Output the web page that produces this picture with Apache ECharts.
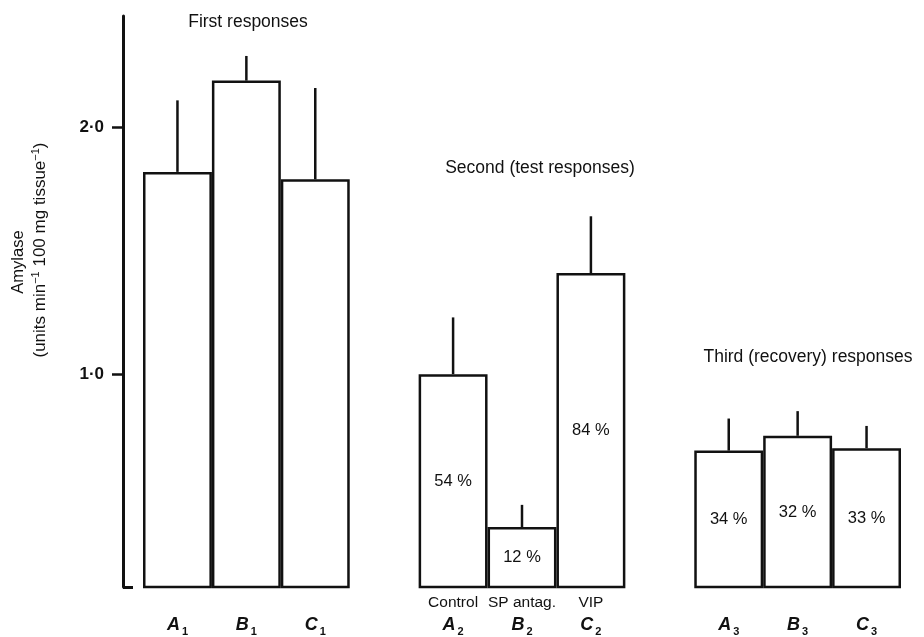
<!DOCTYPE html>
<html>
<head>
<meta charset="utf-8">
<script src="https://cdn.jsdelivr.net/npm/echarts@6/dist/echarts.min.js"></script>
<style>
html,body{margin:0;padding:0;background:#fff;}
#chart{width:924px;height:637px;}
</style>
</head>
<body>
<div id="chart"></div>
<script>
// ---- data ----
const categories = ['A1', 'B1', 'C1', '', 'A2', 'B2', 'C2', '', 'A3', 'B3', 'C3'];
const treatments = ['', '', '', '', 'Control', 'SP antag.', 'VIP', '', '', '', ''];
const meanValues = [1.82, 2.19, 1.79, null, 1.00, 0.38, 1.41, null, 0.69, 0.75, 0.70];
const errorTops  = [2.11, 2.29, 2.16, null, 1.23, 0.47, 1.64, null, 0.82, 0.85, 0.79];
const percentLabels = ['', '', '', '', '54 %', '12 %', '84 %', '', '34 %', '32 %', '33 %'];
const yTickValues = [1, 2];
const yTickLabels = ['1·0', '2·0'];
const yMin = 0.137;
const yMax = 2.452;
const groupTitles = ['First responses', 'Second (test responses)', 'Third (recovery) responses'];
const yName = 'Amylase';
const yUnits = ['(units min', '−1', ' 100 mg tissue', '−1', ')'];

const FONT = '"Liberation Sans", Arial, Helvetica, sans-serif';
const chart = echarts.init(document.getElementById('chart'), null, {renderer: 'canvas'});

const barData = meanValues.map(v => v == null ? '-' : v);
const errData = [];
meanValues.forEach((v, i) => { if (v != null) errData.push([i, v, errorTops[i]]); });

const option = {
  backgroundColor: '#ffffff',
  animation: false,
  grid: {left: 143, right: 23, top: 16, bottom: 47},
  xAxis: {
    type: 'category',
    data: categories,
    boundaryGap: true,
    axisLine: {show: false},
    axisTick: {show: false},
    splitLine: {show: false},
    axisLabel: {
      interval: 0,
      margin: 6,
      formatter: function (val, idx) {
        if (!val) return '';
        const top = treatments[idx] ? '{t|' + treatments[idx] + '}' : '{t| }';
        return top + '\n{i|' + val.charAt(0) + '}{s|' + val.slice(1) + '}';
      },
      rich: {
        t: {fontFamily: FONT, fontSize: 15.5, color: '#111', lineHeight: 20},
        i: {fontFamily: FONT, fontSize: 18, fontStyle: 'italic', fontWeight: 'bold', color: '#111', lineHeight: 24},
        s: {fontFamily: FONT, fontSize: 11, fontWeight: 'bold', color: '#111', verticalAlign: 'bottom', lineHeight: 18, padding: [6, 0, 0, 2]}
      }
    }
  },
  yAxis: [{
    type: 'value',
    min: yMin,
    max: yMax,
    position: 'left',
    offset: 20,
    splitLine: {show: false},
    axisLine: {show: true, lineStyle: {color: '#111', width: 3}},
    axisTick: {show: true, length: 11, lineStyle: {color: '#111', width: 2.5}, customValues: yTickValues},
    axisLabel: {
      show: true, margin: 19, color: '#111', fontFamily: FONT, fontSize: 17, fontWeight: 'bold',
      customValues: yTickValues,
      formatter: function (v) { const k = yTickValues.indexOf(v); return k >= 0 ? yTickLabels[k] : ''; }
    }
  }, {
    type: 'value',
    min: yMin,
    max: yMax,
    position: 'left',
    offset: 20,
    splitLine: {show: false},
    axisLine: {show: false},
    axisTick: {show: true, inside: true, length: 10, lineStyle: {color: '#111', width: 3}, customValues: [yMin]},
    axisLabel: {show: false}
  }],
  graphic: [
    {type: 'text', x: 248, y: 22, style: {text: groupTitles[0], align: 'center', verticalAlign: 'middle', font: '17.5px ' + FONT, fill: '#111'}},
    {type: 'text', x: 540, y: 168, style: {text: groupTitles[1], align: 'center', verticalAlign: 'middle', font: '17.5px ' + FONT, fill: '#111'}},
    {type: 'text', x: 808, y: 357, style: {text: groupTitles[2], align: 'center', verticalAlign: 'middle', font: '17.5px ' + FONT, fill: '#111'}},
    {type: 'text', x: 18, y: 262, rotation: Math.PI / 2,
      style: {text: yName, align: 'center', verticalAlign: 'middle', font: '16.5px ' + FONT, fill: '#111'}},
    {type: 'text', x: 40, y: 250, rotation: Math.PI / 2,
      style: {
        text: '{n|' + yUnits[0] + '}{u|' + yUnits[1] + '}{n|' + yUnits[2] + '}{u|' + yUnits[3] + '}{n|' + yUnits[4] + '}',
        align: 'center', verticalAlign: 'middle', fill: '#111',
        rich: {
          n: {fontFamily: FONT, fontSize: 17, fill: '#111', lineHeight: 20},
          u: {fontFamily: FONT, fontSize: 11, fill: '#111', verticalAlign: 'top', lineHeight: 20, padding: [0, 0, 9, 0]}
        }
      }}
  ],
  series: [{
    type: 'bar',
    data: barData,
    barWidth: '100%',
    barCategoryGap: '0%',
    clip: true,
    itemStyle: {color: '#ffffff', borderColor: '#111', borderWidth: 2.5},
    label: {
      show: true, position: 'inside', color: '#111', fontFamily: FONT, fontSize: 16.5,
      formatter: function (p) { return percentLabels[p.dataIndex]; }
    },
    emphasis: {disabled: true},
    z: 2
  }, {
    type: 'custom',
    data: errData,
    encode: {x: 0, y: [1, 2]},
    renderItem: function (params, api) {
      const p1 = api.coord([api.value(0), api.value(1)]);
      const p2 = api.coord([api.value(0), api.value(2)]);
      return {
        type: 'line',
        shape: {x1: p1[0], y1: p1[1], x2: p2[0], y2: p2[1]},
        style: {stroke: '#111', lineWidth: 2.5}
      };
    },
    z: 3
  }]
};
chart.setOption(option);
</script>
</body>
</html>
